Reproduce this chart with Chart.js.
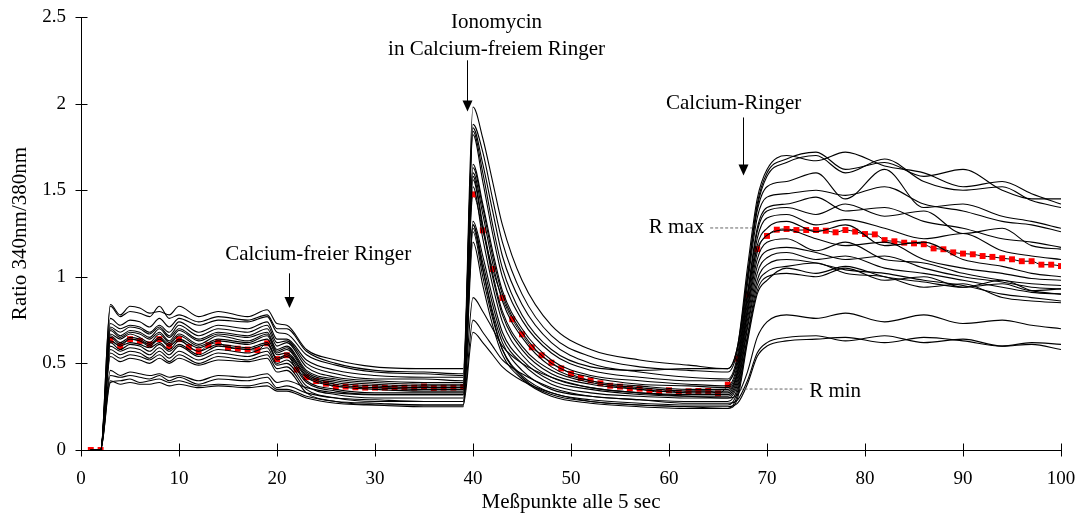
<!DOCTYPE html>
<html>
<head>
<meta charset="utf-8">
<script src="https://cdn.jsdelivr.net/npm/chart.js@4.4.1/dist/chart.umd.min.js"></script>
<style>
  html, body { margin: 0; padding: 0; background: #fff; }
</style>
</head>
<body>
<canvas id="chart" width="1078" height="518"></canvas>
<script>
const keyPoints = [1, 2, 3, 4, 5, 6, 7, 8, 9, 10, 12, 14, 17, 19, 20, 21, 23, 26, 30, 35, 39,
  40, 41, 42, 43, 45, 48, 52, 57, 62, 66, 67, 68, 69, 70, 72, 75, 78, 82, 86, 90, 94, 97, 100]

// single cells, ratio 340nm/380nm
const cell01 = [0, 0, .84, .78, .83, .82, .79, .80, .78, .83, .77, .80, .77, .81, .73, .72, .58, .52, .48, .47, .47,
  1.98, 1.80, 1.55, 1.30, .98, .72, .58, .52, .49, .47, .60, 1.05, 1.45, 1.62, 1.70, 1.67, 1.72, 1.64, 1.60, 1.52, 1.55, 1.48, 1.42]
const cell02 = [0, 0, .83, .77, .80, .79, .77, .83, .76, .78, .74, .77, .75, .78, .70, .70, .57, .50, .46, .45, .44,
  1.88, 1.72, 1.45, 1.20, .90, .66, .54, .48, .46, .45, .58, 1.00, 1.42, 1.60, 1.68, 1.72, 1.62, 1.66, 1.58, 1.62, 1.50, 1.45, 1.45]
const cell03 = [0, 0, .76, .72, .75, .74, .71, .76, .71, .76, .72, .75, .74, .77, .68, .67, .55, .49, .45, .44, .43,
  1.86, 1.65, 1.38, 1.12, .84, .62, .50, .45, .42, .41, .55, .98, 1.40, 1.58, 1.66, 1.70, 1.60, 1.68, 1.55, 1.50, 1.52, 1.44, 1.40]
const cell04 = [0, 0, .73, .70, .72, .71, .68, .72, .68, .74, .68, .72, .70, .74, .64, .64, .52, .46, .43, .42, .42,
  1.84, 1.60, 1.30, 1.05, .78, .58, .48, .46, .47, .47, .60, 1.00, 1.38, 1.52, 1.55, 1.60, 1.45, 1.62, 1.40, 1.42, 1.35, 1.32, 1.28]
const cell05 = [0, 0, .71, .68, .71, .70, .67, .71, .66, .72, .66, .70, .68, .72, .62, .63, .50, .44, .41, .41, .40,
  1.82, 1.55, 1.25, 1.00, .75, .56, .46, .42, .40, .40, .52, .95, 1.34, 1.46, 1.48, 1.50, 1.47, 1.52, 1.42, 1.38, 1.32, 1.30, 1.26]
const cell06 = [0, 0, .70, .66, .69, .68, .65, .70, .65, .70, .64, .68, .66, .70, .60, .62, .48, .42, .40, .39, .39,
  1.65, 1.42, 1.15, .92, .70, .52, .43, .40, .38, .37, .50, .90, 1.28, 1.40, 1.42, 1.46, 1.38, 1.40, 1.32, 1.28, 1.22, 1.20, 1.17]
const cell07 = [0, 0, .69, .65, .68, .67, .64, .68, .63, .69, .63, .67, .65, .68, .58, .60, .46, .41, .39, .38, .38,
  1.63, 1.40, 1.12, .90, .68, .50, .42, .38, .37, .36, .48, .88, 1.26, 1.38, 1.40, 1.36, 1.42, 1.35, 1.38, 1.25, 1.28, 1.18, 1.16]
const cell08 = [0, 0, .67, .64, .67, .65, .62, .67, .62, .67, .61, .66, .63, .67, .57, .59, .45, .40, .38, .37, .37,
  1.60, 1.36, 1.08, .86, .65, .48, .40, .37, .35, .35, .46, .85, 1.22, 1.34, 1.36, 1.30, 1.33, 1.28, 1.22, 1.25, 1.15, 1.12, 1.10]
const cell09 = [0, 0, .66, .62, .65, .64, .61, .65, .61, .66, .60, .64, .62, .66, .56, .58, .44, .39, .37, .36, .36,
  1.58, 1.30, 1.02, .80, .60, .46, .39, .36, .34, .34, .45, .82, 1.18, 1.28, 1.32, 1.26, 1.30, 1.18, 1.20, 1.10, 1.06, 1.02, 1.00]
const cell10 = [0, 0, .65, .61, .64, .63, .60, .64, .60, .64, .59, .63, .61, .64, .55, .56, .43, .38, .36, .35, .35,
  1.56, 1.28, 1.00, .78, .58, .44, .38, .35, .33, .33, .44, .80, 1.14, 1.24, 1.27, 1.22, 1.18, 1.20, 1.10, 1.05, 1.02, .99, .98]
const cell11 = [0, 0, .63, .60, .62, .61, .59, .62, .58, .63, .57, .61, .59, .62, .53, .55, .42, .37, .35, .34, .34,
  1.52, 1.22, .95, .74, .55, .42, .36, .33, .32, .32, .42, .78, 1.10, 1.20, 1.22, 1.15, 1.20, 1.10, 1.08, 1.02, .98, .96, .95]
const cell12 = [0, 0, .62, .58, .61, .60, .57, .61, .57, .61, .55, .60, .58, .61, .52, .54, .40, .35, .33, .33, .33,
  1.32, 1.12, .88, .68, .52, .40, .35, .32, .31, .31, .40, .75, 1.06, 1.15, 1.17, 1.14, 1.10, 1.12, 1.05, 1.00, .97, .94, .93]
const cell13 = [0, 0, .60, .57, .59, .58, .55, .59, .55, .60, .54, .58, .56, .59, .50, .52, .39, .34, .32, .32, .32,
  1.30, 1.08, .84, .65, .50, .38, .33, .31, .30, .30, .38, .72, 1.02, 1.11, 1.14, 1.10, 1.12, 1.05, 1.02, .98, .94, .91, .90]
const cell14 = [0, 0, .58, .55, .57, .56, .53, .57, .53, .57, .52, .56, .54, .57, .49, .50, .37, .32, .30, .30, .30,
  1.28, 1.04, .80, .62, .46, .35, .31, .29, .28, .28, .36, .70, .98, 1.07, 1.10, 1.08, 1.04, 1.02, .98, .95, .90, .88, .86]
const cell15 = [0, 0, .56, .53, .55, .54, .52, .55, .51, .55, .50, .54, .52, .55, .47, .48, .35, .30, .28, .28, .28,
  1.26, 1.00, .76, .58, .43, .33, .29, .27, .26, .26, .34, .66, .95, 1.03, 1.06, 1.08, 1.02, 1.00, .94, .96, .88, .86, .85]
const cell16 = [0, 0, .54, .51, .53, .52, .50, .53, .50, .53, .49, .52, .51, .53, .45, .46, .33, .28, .26, .25, .25,
  1.20, .95, .72, .55, .41, .31, .27, .25, .24, .24, .32, .64, .92, 1.00, 1.02, 1.00, 1.05, .98, 1.00, .94, .96, .92, .93]
const cell17 = [0, 0, .46, .43, .45, .44, .43, .44, .42, .43, .40, .43, .42, .44, .39, .40, .36, .33, .32, .32, .32,
  .88, .80, .70, .60, .50, .42, .36, .33, .31, .30, .32, .45, .65, .74, .78, .76, .79, .74, .78, .73, .75, .72, .70]
const cell18 = [0, 0, .43, .42, .43, .42, .41, .43, .40, .42, .38, .41, .40, .42, .36, .37, .33, .30, .29, .28, .28,
  .75, .68, .60, .52, .44, .36, .31, .29, .27, .27, .29, .40, .56, .62, .65, .66, .63, .66, .62, .64, .60, .62, .61]
const cell19 = [0, 0, .39, .40, .41, .39, .40, .41, .39, .40, .37, .38, .37, .39, .35, .35, .31, .28, .27, .26, .26,
  .68, .62, .55, .48, .40, .33, .28, .26, .25, .25, .27, .38, .54, .60, .63, .64, .65, .62, .65, .63, .60, .61, .58]
const cell20 = [0, 0, .40, .38, .39, .38, .38, .39, .37, .38, .36, .37, .36, .37, .34, .34, .30, .27, .26, .26, .26,
  1.30, 1.05, .78, .58, .42, .32, .28, .26, .25, .24, .30, .62, .90, .98, 1.05, 1.02, 1.06, 1.00, .97, .94, .98, .92, .90]

const cells = [cell01, cell02, cell03, cell04, cell05, cell06, cell07, cell08, cell09, cell10,
  cell11, cell12, cell13, cell14, cell15, cell16, cell17, cell18, cell19, cell20]

// mean over all cells, one value per measurement point 1..100
const meanRatio = [0, 0, .635, .60, .64, .63, .61, .64, .60, .64,
  .595, .57, .605, .62, .59, .585, .58, .577, .616, .525,
  .547, .464, .42, .398, .383, .364, .366, .362, .36, .36,
  .36, .358, .36, .36, .367, .358, .36, .36, .364, 1.476,
  1.268, 1.045, .878, .755, .668, .593, .547, .504, .471, .44,
  .416, .402, .385, .371, .366, .356, .354, .341, .335, .345,
  .331, .339, .341, .341, .327, .377, .527, .897, 1.16, 1.236,
  1.272, 1.276, 1.27, 1.27, 1.27, 1.266, 1.257, 1.27, 1.261, 1.247,
  1.245, 1.212, 1.205, 1.197, 1.193, 1.188, 1.164, 1.159, 1.141, 1.134,
  1.13, 1.12, 1.115, 1.107, 1.101, 1.09, 1.09, 1.07, 1.07, 1.062]
const meanPoints = meanRatio.map((v, i) => i + 1)

const FONT = "'Liberation Serif', 'Times New Roman', serif"

// crossing tick marks, arrows and labels drawn in data coordinates
const annotationPlugin = {
  id: "annotations",
  afterDraw(chart) {
    const { ctx, scales: { x, y } } = chart
    ctx.save()
    ctx.strokeStyle = "#000"
    ctx.lineWidth = 1
    const left = Math.round(x.left) + 0.5
    const bottom = Math.round(y.bottom) + 0.5
    y.ticks.forEach(t => {
      const py = Math.round(y.getPixelForValue(t.value)) + 0.5
      ctx.beginPath()
      ctx.moveTo(left - 6, py)
      ctx.lineTo(left + 6, py)
      ctx.stroke()
    })
    x.ticks.forEach(t => {
      const px = Math.round(x.getPixelForValue(t.value)) + 0.5
      ctx.beginPath()
      ctx.moveTo(px, bottom - 7)
      ctx.lineTo(px, bottom + 6)
      ctx.stroke()
    })

    const arrow = (xv, y1, y2) => {
      const px = Math.round(x.getPixelForValue(xv)) + 0.5
      const top = y.getPixelForValue(y1)
      const tip = y.getPixelForValue(y2)
      ctx.beginPath()
      ctx.moveTo(px, top)
      ctx.lineTo(px, tip - 8)
      ctx.stroke()
      ctx.beginPath()
      ctx.moveTo(px - 5, tip - 11)
      ctx.lineTo(px + 5, tip - 11)
      ctx.lineTo(px, tip)
      ctx.closePath()
      ctx.fill()
    }
    ctx.fillStyle = "#000"
    arrow(21.2, 1.02, 0.82)
    arrow(39.4, 2.25, 1.955)
    arrow(67.5, 1.92, 1.585)

    ctx.font = "21px " + FONT
    ctx.textBaseline = "middle"
    ctx.textAlign = "center"
    ctx.fillText("Calcium-freier Ringer", x.getPixelForValue(24.2), y.getPixelForValue(1.126))
    ctx.fillText("Ionomycin", x.getPixelForValue(42.4), y.getPixelForValue(2.47))
    ctx.fillText("in Calcium-freiem Ringer", x.getPixelForValue(42.4), y.getPixelForValue(2.31))
    ctx.fillText("Calcium-Ringer", x.getPixelForValue(66.6), y.getPixelForValue(2.0))
    ctx.textAlign = "right"
    ctx.fillText("R max", x.getPixelForValue(63.6), y.getPixelForValue(1.282))
    ctx.textAlign = "left"
    ctx.fillText("R min", x.getPixelForValue(74.3), y.getPixelForValue(0.335))

    ctx.strokeStyle = "#666"
    ctx.setLineDash([3, 2])
    ctx.beginPath()
    ctx.moveTo(x.getPixelForValue(64.2), y.getPixelForValue(1.282))
    ctx.lineTo(x.getPixelForValue(68.5), y.getPixelForValue(1.282))
    ctx.moveTo(x.getPixelForValue(67.2), y.getPixelForValue(0.352))
    ctx.lineTo(x.getPixelForValue(73.6), y.getPixelForValue(0.352))
    ctx.stroke()
    ctx.restore()
  }
}

const datasets = cells.map(cell => ({
  data: keyPoints.map((k, i) => ({ x: k, y: cell[i] })),
  borderColor: "#000",
  borderWidth: 1.1,
  pointRadius: 0,
  cubicInterpolationMode: "monotone"
}))

datasets.push({
  data: meanPoints.map((k, i) => ({ x: k, y: meanRatio[i] })),
  borderColor: "#000",
  borderWidth: 1,
  pointStyle: "rect",
  pointRadius: 4.2,
  pointBackgroundColor: "#ff0000",
  pointBorderWidth: 0,
  cubicInterpolationMode: "monotone"
})

new Chart(document.getElementById("chart"), {
  type: "line",
  data: { datasets: datasets },
  plugins: [annotationPlugin],
  options: {
    responsive: false,
    animation: false,
    layout: { padding: { top: 17, right: 17, left: 0, bottom: 0 } },
    plugins: {
      legend: { display: false },
      tooltip: { enabled: false }
    },
    scales: {
      x: {
        type: "linear",
        min: 0,
        max: 100,
        afterFit: scale => {
          scale.height = 68
          scale.paddingLeft = 0
          scale.paddingRight = 0
        },
        grid: { display: false, drawTicks: false },
        border: { display: true, color: "#000", width: 1 },
        ticks: {
          stepSize: 10,
          padding: 18,
          color: "#000",
          font: { family: FONT, size: 19 }
        },
        title: {
          display: true,
          text: "Meßpunkte alle 5 sec",
          color: "#000",
          padding: { top: 0, bottom: 3 },
          font: { family: FONT, size: 21 }
        }
      },
      y: {
        min: 0,
        max: 2.5,
        afterFit: scale => {
          scale.width = 81
          scale.paddingTop = 0
          scale.paddingBottom = 0
        },
        grid: { display: false, drawTicks: false },
        border: { display: true, color: "#000", width: 1 },
        ticks: {
          stepSize: 0.5,
          padding: 15,
          color: "#000",
          font: { family: FONT, size: 19 },
          callback: value => String(value)
        },
        title: {
          display: true,
          text: "Ratio 340nm/380nm",
          color: "#000",
          padding: { top: 8, bottom: 0 },
          font: { family: FONT, size: 21 }
        }
      }
    }
  }
})
</script>
</body>
</html>
